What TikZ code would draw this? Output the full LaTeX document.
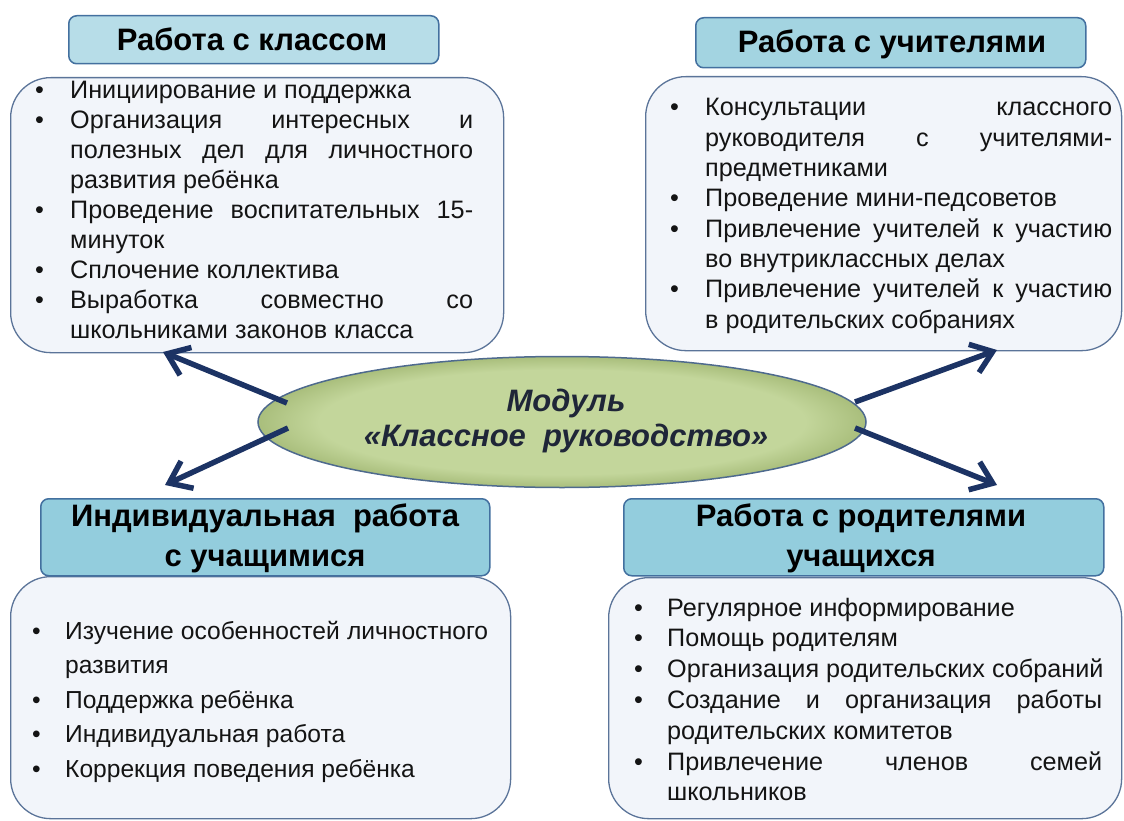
\documentclass[tikz,border=0pt]{standalone}
\usepackage{fontspec}
\setmainfont{Liberation Sans}
\usetikzlibrary{arrows.meta,shapes.geometric}
\definecolor{titleA}{HTML}{B7DDE8}
\definecolor{titleC}{HTML}{A3D4E1}
\definecolor{titleB}{HTML}{93CDDD}
\definecolor{titleline}{HTML}{43709F}
\definecolor{boxfill}{HTML}{F2F5FA}
\definecolor{boxline}{HTML}{5B7499}
\definecolor{ellfill}{HTML}{C3D69B}
\definecolor{elldark}{HTML}{A9BE7C}
\definecolor{ellline}{HTML}{4E6A8E}
\definecolor{arrowc}{HTML}{1C3364}
\definecolor{txt}{HTML}{141414}
\definecolor{elltext}{HTML}{1F2638}
\pgfdeclareradialshading{ellsh}{\pgfpoint{0bp}{0bp}}{color(0bp)=(ellfill); color(20bp)=(ellfill); color(25bp)=(elldark); color(50bp)=(elldark)}
\newlength\bulw
\newlength\txtw
\newcommand\ItJ[1]{\makebox[\bulw][l]{•}\makebox[\txtw][s]{#1}}
\newcommand\ItL[1]{\makebox[\bulw][l]{•}#1}
\newcommand\CoJ[1]{\hspace*{\bulw}\makebox[\txtw][s]{#1}}
\newcommand\CoL[1]{\hspace*{\bulw}#1}
\tikzset{
  titlebox/.style={draw=titleline, line width=1.5pt, rounded corners=8pt, inner sep=0pt, anchor=north west},
  contentbox/.style={draw=boxline, line width=1.3pt, fill=boxfill, rounded corners=40pt, inner sep=0pt, anchor=north west},
  titletext/.style={anchor=base, inner sep=0pt, text=black, font=\bfseries\fontsize{31}{40}\selectfont},
  bodytext/.style={anchor=base west, inner sep=0pt, text=txt},
  link/.style={draw=arrowc, line width=5.5pt, -{Straight Barb[length=20pt,width=30pt]}}
}
\begin{document}
\begin{tikzpicture}[x=1pt,y=-1pt]
\useasboundingbox (0,0) rectangle (1124,821);
% content boxes
\node[contentbox, minimum width=493pt, minimum height=275pt] (tlb) at (10,77) {};
\node[contentbox, minimum width=476pt, minimum height=274pt] (trb) at (645,76) {};
\node[contentbox, minimum width=500pt, minimum height=242pt] (blb) at (10,576) {};
\node[contentbox, minimum width=513pt, minimum height=241pt] (brb) at (608,577) {};
% title boxes
\node[titlebox, fill=titleA, minimum width=370pt, minimum height=48pt] (tlh) at (68,15) {};
\node[titlebox, fill=titleC, minimum width=390pt, minimum height=50pt] (trh) at (695,17) {};
\node[titlebox, fill=titleB, minimum width=449pt, minimum height=77pt] (blh) at (40,498) {};
\node[titlebox, fill=titleB, minimum width=480pt, minimum height=77pt] (brh) at (623,498) {};
\node[titletext] (tlht) at (252,51) {Работа с классом};
\node[titletext] (trht) at (892,53) {Работа с учителями};
\node[titletext] (blht) at (265,526) {\parbox[t]{440pt}{\centering Индивидуальная\ \ работа\\с учащимися}};
\node[titletext] (brht) at (861,526) {\parbox[t]{470pt}{\centering Работа с родителями\\учащихся}};
% body texts
\node[bodytext] (tlt) at (35,99) {\setlength\bulw{35pt}\setlength\txtw{403pt}\parbox[t]{460pt}{\fontsize{25.2}{30}\selectfont
\ItL{Инициирование и поддержка}\\
\ItJ{Организация интересных и}\\
\CoJ{полезных дел для личностного}\\
\CoL{развития ребёнка}\\
\ItJ{Проведение воспитательных 15-}\\
\CoL{минуток}\\
\ItL{Сплочение коллектива}\\
\ItJ{Выработка совместно со}\\
\CoL{школьниками законов класса}}};
\node[bodytext] (trt) at (670,116) {\setlength\bulw{35pt}\setlength\txtw{407pt}\parbox[t]{460pt}{\fontsize{25.2}{30.3}\selectfont
\ItJ{Консультации классного}\\
\CoJ{руководителя с учителями-}\\
\CoL{предметниками}\\
\ItL{Проведение мини-педсоветов}\\
\ItJ{Привлечение учителей к участию}\\
\CoL{во внутриклассных делах}\\
\ItJ{Привлечение учителей к участию}\\
\CoL{в родительских собраниях}}};
\node[bodytext] (blt) at (32,639) {\setlength\bulw{33pt}\setlength\txtw{423pt}\parbox[t]{470pt}{\fontsize{24.6}{34.5}\selectfont
\ItJ{Изучение особенностей личностного}\\
\CoL{развития}\\
\ItL{Поддержка ребёнка}\\
\ItL{Индивидуальная работа}\\
\ItL{Коррекция поведения ребёнка}}};
\node[bodytext] (brt) at (634,616) {\setlength\bulw{33pt}\setlength\txtw{435pt}\parbox[t]{480pt}{\fontsize{25.2}{30.8}\selectfont
\ItL{Регулярное информирование}\\
\ItL{Помощь родителям}\\
\ItL{Организация родительских собраний}\\
\ItJ{Создание и организация работы}\\
\CoL{родительских комитетов}\\
\ItJ{Привлечение членов семей}\\
\CoL{школьников}}};
% central ellipse
\node[ellipse, draw=ellline, line width=1.5pt, shading=ellsh, minimum width=608pt, minimum height=131pt, inner sep=0pt] (mod) at (562,422) {};
\node[anchor=base, inner sep=0pt, text=elltext, font=\bfseries\itshape\fontsize{31}{35}\selectfont] (modt) at (566,411) {\parbox[t]{500pt}{\centering Модуль\\«Классное\ \ руководство»}};
% arrows
\coordinate (a1s) at (287,403);
\coordinate (a1e) at (163,352);
\coordinate (a2s) at (288,428);
\coordinate (a2e) at (165,485);
\coordinate (a3s) at (855,402);
\coordinate (a3e) at (997,350);
\coordinate (a4s) at (855,428);
\coordinate (a4e) at (997,485);
\draw[link] (a1s) -- (a1e);
\draw[link] (a2s) -- (a2e);
\draw[link] (a3s) -- (a3e);
\draw[link] (a4s) -- (a4e);
\end{tikzpicture}
\end{document}
